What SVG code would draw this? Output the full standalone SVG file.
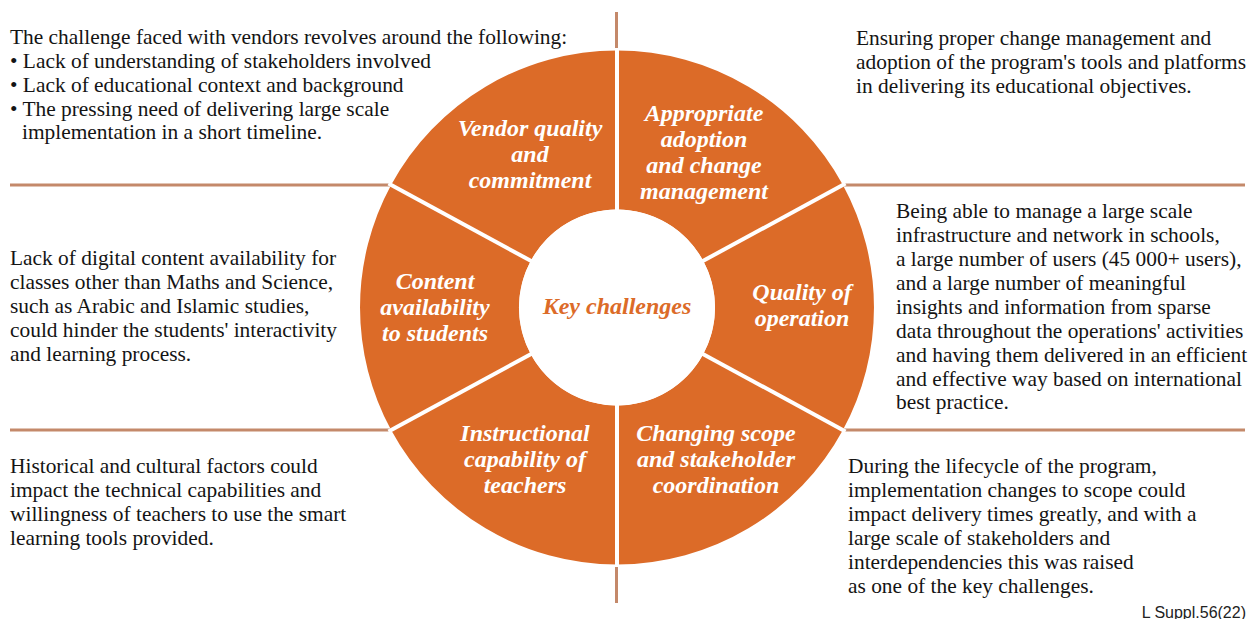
<svg xmlns="http://www.w3.org/2000/svg" width="1252" height="619" viewBox="0 0 1252 619">
<style>
.body{font-family:"Liberation Serif","Times New Roman",serif;font-size:21.4px;fill:#141414}
.lbl{font-family:"Liberation Serif","Times New Roman",serif;font-size:24px;font-weight:bold;font-style:italic;fill:#ffffff;text-anchor:middle}
.key{font-family:"Liberation Serif","Times New Roman",serif;font-size:24px;font-weight:bold;font-style:italic;fill:#DC6B28;text-anchor:middle}
.seg{fill:#DC6B28}
.lead{stroke:#C4896A;stroke-width:3;fill:none}
.div{stroke:#ffffff;stroke-width:4;fill:none}
.src{font-family:"Liberation Sans",Arial,sans-serif;font-size:16px;fill:#222;text-anchor:end}
</style>
<rect width="1252" height="619" fill="#ffffff"/>
<g id="connectors">
<line class="lead" x1="616.5" y1="12" x2="616.5" y2="51"/>
<line class="lead" x1="616.5" y1="564" x2="616.5" y2="603"/>
<line class="lead" x1="10" y1="185" x2="392" y2="185"/>
<line class="lead" x1="842" y1="185" x2="1245" y2="185"/>
<line class="lead" x1="10" y1="430" x2="392" y2="430"/>
<line class="lead" x1="842" y1="430" x2="1245" y2="430"/>
</g>
<g id="seg-vendor">
<path class="seg" d="M617 50.5A257 257 0 0 0 391.1 185L530.8 260.8A98 98 0 0 1 617 209.5Z"/>
<text class="lbl" x="530" y="136">Vendor quality</text>
<text class="lbl" x="530" y="162">and</text>
<text class="lbl" x="530" y="188">commitment</text>
</g>
<g id="seg-adoption">
<path class="seg" d="M617 50.5A257 257 0 0 1 842.9 185L703.2 260.8A98 98 0 0 0 617 209.5Z"/>
<text class="lbl" x="704" y="121">Appropriate</text>
<text class="lbl" x="704" y="147">adoption</text>
<text class="lbl" x="704" y="173">and change</text>
<text class="lbl" x="704" y="199">management</text>
</g>
<g id="seg-quality">
<path class="seg" d="M842.9 185A257 257 0 0 1 842.9 430L703.2 354.2A98 98 0 0 0 703.2 260.8Z"/>
<text class="lbl" x="802" y="300">Quality of</text>
<text class="lbl" x="802" y="326">operation</text>
</g>
<g id="seg-scope">
<path class="seg" d="M842.9 430A257 257 0 0 1 617 564.5L617 405.5A98 98 0 0 0 703.2 354.2Z"/>
<text class="lbl" x="716" y="441">Changing scope</text>
<text class="lbl" x="716" y="467">and stakeholder</text>
<text class="lbl" x="716" y="493">coordination</text>
</g>
<g id="seg-instructional">
<path class="seg" d="M617 564.5A257 257 0 0 1 391.1 430L530.8 354.2A98 98 0 0 0 617 405.5Z"/>
<text class="lbl" x="525" y="441">Instructional</text>
<text class="lbl" x="525" y="467">capability of</text>
<text class="lbl" x="525" y="493">teachers</text>
</g>
<g id="seg-content">
<path class="seg" d="M391.1 430A257 257 0 0 1 391.1 185L530.8 260.8A98 98 0 0 0 530.8 354.2Z"/>
<text class="lbl" x="435" y="289">Content</text>
<text class="lbl" x="435" y="315">availability</text>
<text class="lbl" x="435" y="341">to students</text>
</g>
<g id="dividers">
<line class="div" x1="617" y1="48" x2="617" y2="212"/>
<line class="div" x1="617" y1="403" x2="617" y2="567"/>
<line class="div" x1="845.5" y1="183.6" x2="701" y2="262"/>
<line class="div" x1="845.5" y1="431.4" x2="701" y2="353"/>
<line class="div" x1="388.5" y1="183.6" x2="533" y2="262"/>
<line class="div" x1="388.5" y1="431.4" x2="533" y2="353"/>
</g>
<g id="center">
<circle cx="617" cy="307.5" r="98" fill="#ffffff"/>
<text class="key" x="617" y="314">Key challenges</text>
</g>
<g id="text-vendor">
<text class="body" x="10" y="44">The challenge faced with vendors revolves around the following:</text>
<text class="body" x="10" y="68">• Lack of understanding of stakeholders involved</text>
<text class="body" x="10" y="92">• Lack of educational context and background</text>
<text class="body" x="10" y="115.5">• The pressing need of delivering large scale</text>
<text class="body" x="22" y="139">implementation in a short timeline.</text>
</g>
<g id="text-adoption">
<text class="body" x="856" y="45">Ensuring proper change management and</text>
<text class="body" x="856" y="69">adoption of the program's tools and platforms</text>
<text class="body" x="856" y="93">in delivering its educational objectives.</text>
</g>
<g id="text-content">
<text class="body" x="10" y="265">Lack of digital content availability for</text>
<text class="body" x="10" y="289">classes other than Maths and Science,</text>
<text class="body" x="10" y="313">such as Arabic and Islamic studies,</text>
<text class="body" x="10" y="337">could hinder the students' interactivity</text>
<text class="body" x="10" y="361">and learning process.</text>
</g>
<g id="text-quality">
<text class="body" x="896" y="218">Being able to manage a large scale</text>
<text class="body" x="896" y="242">infrastructure and network in schools,</text>
<text class="body" x="896" y="266">a large number of users (45 000+ users),</text>
<text class="body" x="896" y="290">and a large number of meaningful</text>
<text class="body" x="896" y="314">insights and information from sparse</text>
<text class="body" x="896" y="338">data throughout the operations' activities</text>
<text class="body" x="896" y="362">and having them delivered in an efficient</text>
<text class="body" x="896" y="386">and effective way based on international</text>
<text class="body" x="896" y="409">best practice.</text>
</g>
<g id="text-instructional">
<text class="body" x="10" y="473">Historical and cultural factors could</text>
<text class="body" x="10" y="497">impact the technical capabilities and</text>
<text class="body" x="10" y="521">willingness of teachers to use the smart</text>
<text class="body" x="10" y="545">learning tools provided.</text>
</g>
<g id="text-scope">
<text class="body" x="848" y="473">During the lifecycle of the program,</text>
<text class="body" x="848" y="497">implementation changes to scope could</text>
<text class="body" x="848" y="521">impact delivery times greatly, and with a</text>
<text class="body" x="848" y="545">large scale of stakeholders and</text>
<text class="body" x="848" y="569">interdependencies this was raised</text>
<text class="body" x="848" y="593">as one of the key challenges.</text>
</g>
<text class="src" x="1246" y="618">L Suppl.56(22)</text>
</svg>
